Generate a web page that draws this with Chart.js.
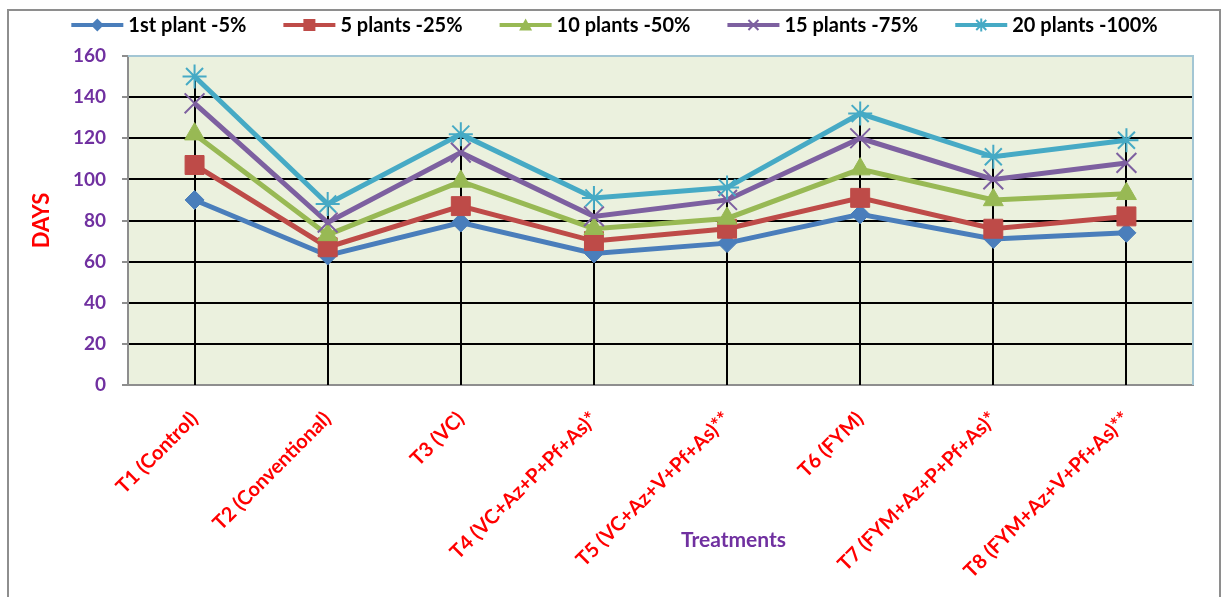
<!DOCTYPE html>
<html><head><meta charset="utf-8">
<script src="https://cdn.jsdelivr.net/npm/chart.js@4"></script>
<style>html,body{margin:0;padding:0;background:#fff;overflow:hidden}</style>
</head><body>
<canvas id="c" width="1223" height="597"></canvas>
<script>
const categories = ['T1 (Control)','T2 (Conventional)','T3 (VC)','T4 (VC+Az+P+Pf+As)*','T5 (VC+Az+V+Pf+As)**','T6 (FYM)','T7 (FYM+Az+P+Pf+As)*','T8 (FYM+Az+V+Pf+As)**'];
const seriesNames = ['1st plant -5%','5 plants -25%','10 plants -50%','15 plants -75%','20 plants -100%'];
const plant1   = [90, 63, 79, 64, 69, 83, 71, 74];
const plants5  = [107, 67, 87, 70, 76, 91, 76, 82];
const plants10 = [122, 73, 99, 76, 81, 105, 90, 93];
const plants15 = [137, 79, 113, 82, 90, 120, 100, 108];
const plants20 = [150, 88, 122, 91, 96, 132, 111, 119];
const yMin = 0, yMax = 160, yStep = 20;
const yTitle = 'DAYS';
const xTitle = 'Treatments';

const colors = ['#4A7EBB','#BE4B48','#98B954','#7D60A0','#46AAC5'];
const styles = ['rectRot','rect','triangle','crossRot','star'];
const radii  = [9.5, 13.4, 11.5, 14, 12];
const values = [plant1, plants5, plants10, plants15, plants20];
const FONT = 'Lato';

function legendMarker(ctx, style, x, y, color){
  ctx.save();
  ctx.fillStyle = color; ctx.strokeStyle = color; ctx.lineWidth = 2;
  ctx.beginPath();
  if (style === 'rectRot'){ const r=6.5; ctx.moveTo(x-r,y); ctx.lineTo(x,y-r); ctx.lineTo(x+r,y); ctx.lineTo(x,y+r); ctx.closePath(); ctx.fill(); }
  else if (style === 'rect'){ ctx.rect(x-6,y-6,12,12); ctx.fill(); }
  else if (style === 'triangle'){ ctx.moveTo(x,y-6.5); ctx.lineTo(x+6.5,y+5.5); ctx.lineTo(x-6.5,y+5.5); ctx.closePath(); ctx.fill(); }
  else if (style === 'crossRot'){ const r=5; ctx.moveTo(x-r,y-r); ctx.lineTo(x+r,y+r); ctx.moveTo(x+r,y-r); ctx.lineTo(x-r,y+r); ctx.stroke(); }
  else { const r=5; ctx.moveTo(x-r,y-r); ctx.lineTo(x+r,y+r); ctx.moveTo(x+r,y-r); ctx.lineTo(x-r,y+r); ctx.moveTo(x,y-6.5); ctx.lineTo(x,y+6.5); ctx.stroke(); }
  ctx.restore();
}

const decorPlugin = {
  id: 'decor',
  beforeDraw(chart){
    const {ctx, chartArea:a} = chart;
    ctx.save();
    ctx.fillStyle = '#fff'; ctx.fillRect(0,0,chart.width,chart.height);
    ctx.strokeStyle = '#8E8E8E'; ctx.lineWidth = 2;
    ctx.strokeRect(8, 10, 1212, 700);
    ctx.fillStyle = '#EBF1DE';
    ctx.fillRect(a.left, a.top, a.right - a.left, a.bottom - a.top);
    ctx.restore();
  },
  beforeDatasetsDraw(chart){
    const {ctx, chartArea:a, scales} = chart;
    ctx.save();
    ctx.strokeStyle = '#A3C6D4'; ctx.lineWidth = 2;
    ctx.beginPath(); ctx.moveTo(a.left, a.top); ctx.lineTo(a.right, a.top); ctx.lineTo(a.right, a.bottom); ctx.stroke();
    ctx.strokeStyle = '#000'; ctx.lineWidth = 2;
    categories.forEach((c, i) => {
      const maxV = Math.max(...values.map(v => v[i]));
      const x = Math.round(scales.x.getPixelForValue(i));
      ctx.beginPath();
      ctx.moveTo(x, scales.y.getPixelForValue(maxV));
      ctx.lineTo(x, scales.y.getPixelForValue(yMin));
      ctx.stroke();
    });
    ctx.restore();
  },
  afterDraw(chart){
    const {ctx, chartArea:a} = chart;
    ctx.save();
    // x title
    ctx.font = 'bold 21px ' + FONT;
    ctx.fillStyle = '#7030A0';
    ctx.textAlign = 'center'; ctx.textBaseline = 'middle';
    ctx.fillText(xTitle, (a.left + a.right)/2 + 73, 540);
    // legend
    ctx.font = 'bold 20px ' + FONT;
    const lineW = 52, gapT = 5, gapItem = 37;
    const widths = seriesNames.map(s => ctx.measureText(s).width);
    const total = widths.reduce((p, w) => p + lineW + gapT + w, 0) + gapItem * (seriesNames.length - 1);
    let x = chart.width/2 - total/2 + 3;
    const y = 25;
    ctx.textAlign = 'left';
    seriesNames.forEach((s, i) => {
      ctx.strokeStyle = colors[i]; ctx.lineWidth = 4;
      ctx.beginPath(); ctx.moveTo(x, y); ctx.lineTo(x + lineW, y); ctx.stroke();
      legendMarker(ctx, styles[i], x + lineW/2, y, colors[i]);
      ctx.fillStyle = '#000';
      ctx.fillText(s, x + lineW + gapT, y + 1);
      x += lineW + gapT + widths[i] + gapItem;
    });
    ctx.restore();
  }
};

const datasets = seriesNames.map((name, i) => ({
  label: name,
  data: values[i],
  borderColor: colors[i],
  backgroundColor: colors[i],
  borderWidth: 5,
  pointStyle: styles[i],
  pointRadius: radii[i],
  pointHoverRadius: radii[i],
  pointBorderWidth: (styles[i] === 'crossRot' || styles[i] === 'star') ? 2 : 1,
  pointBackgroundColor: colors[i],
  pointBorderColor: colors[i],
  tension: 0,
  order: seriesNames.length - i
}));

new Chart(document.getElementById('c'), {
  type: 'line',
  data: { labels: categories, datasets },
  plugins: [decorPlugin],
  options: {
    responsive: false,
    devicePixelRatio: 1,
    animation: false,
    events: [],
    layout: { padding: { top: 56, left: 0, right: 30, bottom: 0 } },
    plugins: { legend: { display: false }, tooltip: { enabled: false } },
    scales: {
      x: {
        offset: true,
        grid: { display: false, drawTicks: false },
        border: { display: true, color: '#8E8E8E', width: 2 },
        ticks: {
          autoSkip: false, minRotation: 45, maxRotation: 45, padding: 22,
          color: '#FF0000', font: { family: FONT, size: 20, weight: 'bold' }
        },
        afterFit: s => { s.height = 212; }
      },
      y: {
        min: yMin, max: yMax,
        grid: {
          color: ctx => (ctx.tick && ctx.tick.value === yMax) ? 'rgba(0,0,0,0)' : '#000',
          lineWidth: 2, tickLength: 6, tickColor: '#8E8E8E', drawTicks: true
        },
        border: { display: true, color: '#8E8E8E', width: 2 },
        ticks: {
          stepSize: yStep, padding: 16, color: '#7030A0',
          font: { family: FONT, size: 19, weight: 'bold' }
        },
        title: {
          display: true, text: yTitle, color: '#FF0000',
          font: { family: FONT, size: 22, weight: 'bold' },
          padding: { top: 29, bottom: 0 }
        },
        afterFit: s => { s.width = 128; }
      }
    }
  }
});
</script>
</body></html>
